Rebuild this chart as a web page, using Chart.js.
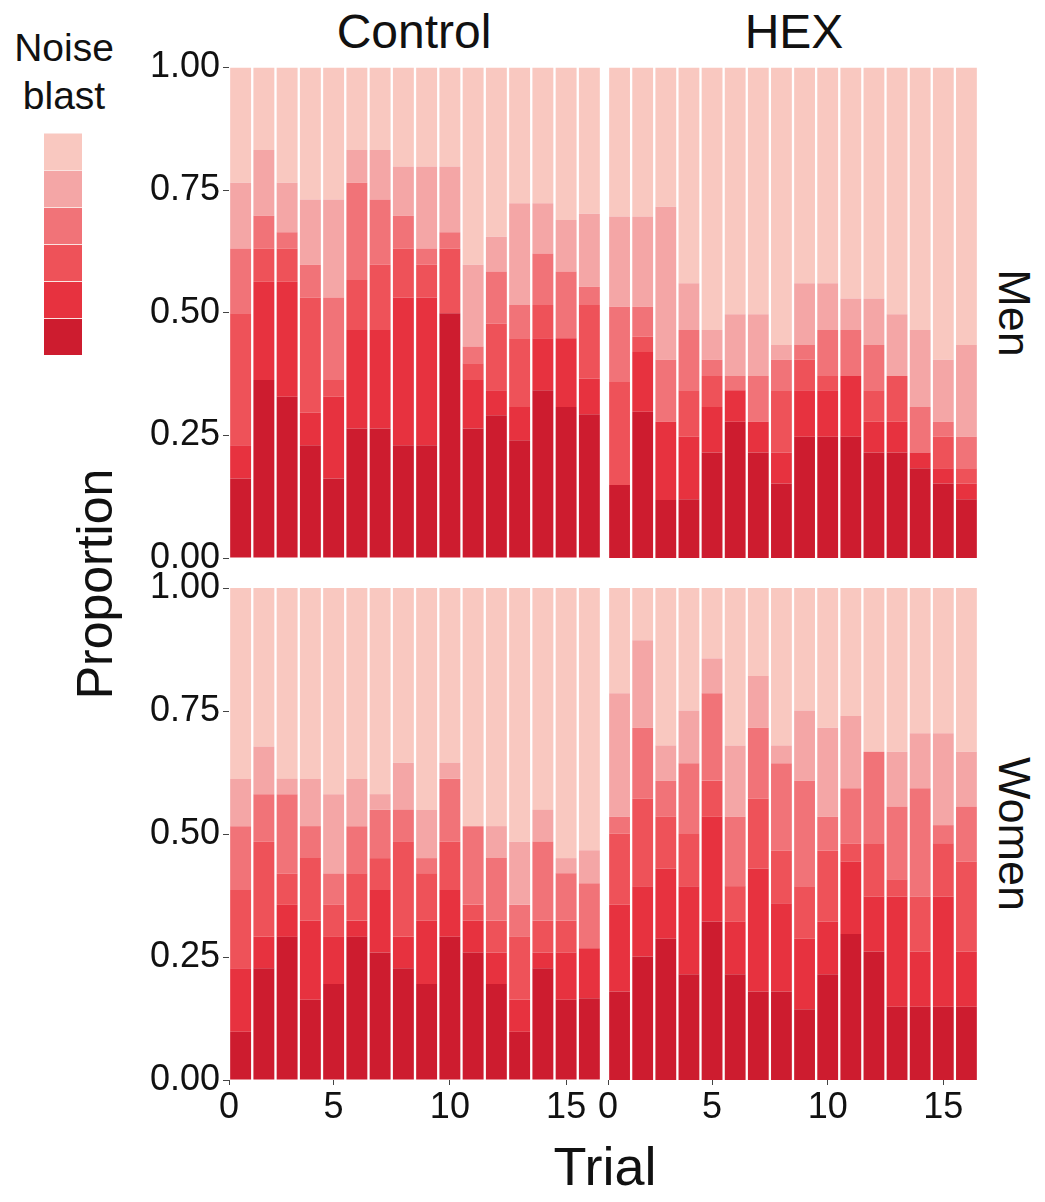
<!DOCTYPE html>
<html>
<head>
<meta charset="utf-8">
<script src="https://cdn.jsdelivr.net/npm/chart.js@4.4.1/dist/chart.umd.min.js"></script>
<style>
  body { margin: 0; background: #fff; width: 1045px; height: 1202px; position: relative; overflow: hidden;
         font-family: "Liberation Sans", Arial, sans-serif; color: #111; }
  canvas { position: absolute; }
  .lbl { position: absolute; white-space: nowrap; line-height: 1; }
  .sw { position: absolute; left: 44px; width: 38px; height: 36px; border-top: 1px solid #fbe3e0; }
</style>
</head>
<body>
<div class="lbl" style="left:414px;top:32px;font-size:48px;transform:translate(-50%,-50%)">Control</div>
<div class="lbl" style="left:794px;top:32px;font-size:48px;transform:translate(-50%,-50%)">HEX</div>
<div class="lbl" style="left:1014px;top:313px;font-size:45px;transform:translate(-50%,-50%) rotate(90deg)">Men</div>
<div class="lbl" style="left:1014px;top:834px;font-size:45px;transform:translate(-50%,-50%) rotate(90deg)">Women</div>
<div class="lbl" style="left:95px;top:584px;font-size:50px;transform:translate(-50%,-50%) rotate(-90deg)">Proportion</div>
<div class="lbl" style="left:605px;top:1166px;font-size:54px;transform:translate(-50%,-50%)">Trial</div>
<div class="lbl" style="left:64px;top:47px;font-size:39px;transform:translate(-50%,-50%)">Noise</div>
<div class="lbl" style="left:64px;top:95px;font-size:39px;transform:translate(-50%,-50%)">blast</div>
<div id="legend"></div>

<canvas id="cMen" width="501" height="560" style="left:100px;top:30px"></canvas>
<canvas id="hMen" width="390" height="560" style="left:600px;top:30px"></canvas>
<canvas id="cWomen" width="501" height="580" style="left:100px;top:560px"></canvas>
<canvas id="hWomen" width="400" height="580" style="left:594px;top:560px"></canvas>

<script>
// trials on the x axis, tick labels
const trials = [1, 2, 3, 4, 5, 6, 7, 8, 9, 10, 11, 12, 13, 14, 15, 16];
const xTicks = [0, 5, 10, 15];

// noise blast levels, darkest (bottom) to lightest (top)
const blastColors = ['#CD1C2F', '#E7323F', '#EE5259', '#F17378', '#F4A6A6', '#F9C8C0'];

// cumulative share reached at the top of levels 1..5 (level 6 fills up to 1), one row per trial
const controlMen = [
  [0.162, 0.230, 0.499, 0.631, 0.765],
  [0.363, 0.563, 0.631, 0.698, 0.832],
  [0.329, 0.563, 0.631, 0.664, 0.765],
  [0.230, 0.296, 0.531, 0.598, 0.731],
  [0.162, 0.329, 0.363, 0.531, 0.731],
  [0.264, 0.465, 0.567, 0.765, 0.832],
  [0.264, 0.465, 0.598, 0.731, 0.832],
  [0.230, 0.531, 0.631, 0.698, 0.798],
  [0.230, 0.531, 0.598, 0.631, 0.798],
  [0.499, 0.499, 0.631, 0.664, 0.798],
  [0.264, 0.363, 0.397, 0.431, 0.598],
  [0.291, 0.342, 0.478, 0.584, 0.655],
  [0.240, 0.308, 0.448, 0.516, 0.723],
  [0.342, 0.448, 0.516, 0.621, 0.723],
  [0.308, 0.448, 0.448, 0.584, 0.689],
  [0.293, 0.366, 0.516, 0.553, 0.702]
];

const hexMen = [
  [0.149, 0.149, 0.359, 0.512, 0.696],
  [0.298, 0.420, 0.451, 0.512, 0.696],
  [0.118, 0.278, 0.278, 0.404, 0.716],
  [0.120, 0.247, 0.342, 0.465, 0.560],
  [0.215, 0.308, 0.371, 0.404, 0.465],
  [0.278, 0.342, 0.342, 0.371, 0.497],
  [0.215, 0.278, 0.278, 0.371, 0.497],
  [0.152, 0.215, 0.342, 0.404, 0.434],
  [0.247, 0.342, 0.404, 0.434, 0.560],
  [0.247, 0.342, 0.371, 0.465, 0.560],
  [0.247, 0.371, 0.371, 0.465, 0.529],
  [0.215, 0.278, 0.342, 0.434, 0.529],
  [0.215, 0.278, 0.371, 0.371, 0.497],
  [0.183, 0.215, 0.215, 0.308, 0.465],
  [0.152, 0.183, 0.247, 0.278, 0.404],
  [0.120, 0.152, 0.183, 0.247, 0.434]
];

const controlWomen = [
  [0.098, 0.227, 0.386, 0.516, 0.612],
  [0.227, 0.291, 0.484, 0.581, 0.678],
  [0.291, 0.356, 0.420, 0.581, 0.612],
  [0.163, 0.324, 0.451, 0.516, 0.612],
  [0.195, 0.291, 0.356, 0.420, 0.581],
  [0.291, 0.324, 0.420, 0.516, 0.612],
  [0.259, 0.386, 0.451, 0.549, 0.581],
  [0.227, 0.291, 0.484, 0.549, 0.645],
  [0.195, 0.324, 0.420, 0.451, 0.549],
  [0.291, 0.386, 0.484, 0.612, 0.645],
  [0.259, 0.324, 0.356, 0.516, 0.516],
  [0.195, 0.259, 0.324, 0.451, 0.516],
  [0.098, 0.163, 0.291, 0.356, 0.484],
  [0.227, 0.259, 0.324, 0.484, 0.549],
  [0.163, 0.259, 0.324, 0.420, 0.451],
  [0.166, 0.268, 0.268, 0.400, 0.467]
];

const hexWomen = [
  [0.180, 0.356, 0.501, 0.535, 0.786],
  [0.251, 0.394, 0.572, 0.716, 0.894],
  [0.287, 0.430, 0.535, 0.608, 0.680],
  [0.215, 0.394, 0.500, 0.644, 0.751],
  [0.322, 0.535, 0.608, 0.786, 0.857],
  [0.215, 0.322, 0.394, 0.535, 0.680],
  [0.180, 0.430, 0.572, 0.716, 0.821],
  [0.180, 0.359, 0.466, 0.644, 0.680],
  [0.144, 0.287, 0.394, 0.608, 0.751],
  [0.215, 0.322, 0.466, 0.535, 0.716],
  [0.297, 0.444, 0.481, 0.593, 0.740],
  [0.261, 0.373, 0.481, 0.667, 0.667],
  [0.149, 0.373, 0.408, 0.556, 0.667],
  [0.149, 0.261, 0.373, 0.593, 0.705],
  [0.149, 0.373, 0.481, 0.518, 0.705],
  [0.149, 0.261, 0.444, 0.556, 0.667]
];

// legend swatches, lightest on top
const legend = document.getElementById('legend');
blastColors.slice().reverse().forEach((c, i) => {
  const d = document.createElement('div');
  d.className = 'sw';
  d.style.top = (133 + i * 37) + 'px';
  d.style.background = c;
  legend.appendChild(d);
});

const tickFont = { family: '"Liberation Sans", Arial, sans-serif', size: 36 };

// one dataset per level: height = difference of consecutive cumulative shares
function makeDatasets(cum) {
  return blastColors.map((color, k) => ({
    data: trials.map((t, i) => ({
      x: t,
      y: (k < 5 ? cum[i][k] : 1) - (k > 0 ? cum[i][k - 1] : 0)
    })),
    backgroundColor: color,
    borderWidth: 0,
    barPercentage: 0.9,
    categoryPercentage: 1
  }));
}

function makeChart(id, cum, showX, showY, padding) {
  return new Chart(document.getElementById(id), {
    type: 'bar',
    data: { datasets: makeDatasets(cum) },
    options: {
      responsive: false,
      animation: false,
      layout: { padding: padding },
      plugins: { legend: { display: false }, tooltip: { enabled: false } },
      scales: {
        x: {
          type: 'linear',
          stacked: true,
          display: showX,
          min: 0.5,
          max: 16.5,
          offset: false,
          grid: { offset: false, drawOnChartArea: false, drawTicks: true, tickLength: 5, color: '#444' },
          border: { display: false },
          afterBuildTicks: (s) => { s.ticks = xTicks.map(v => ({ value: Math.max(v, s.min) })); },
          afterFit: (s) => { s.height = showX ? 60 : 0; },
          ticks: {
            font: tickFont, color: '#111', padding: 1, maxRotation: 0, autoSkip: false,
            callback: (v, i) => String(xTicks[i])
          }
        },
        y: {
          stacked: true,
          display: showY,
          min: 0,
          max: 1,
          grid: { drawOnChartArea: false, drawTicks: true, tickLength: 6, color: '#444' },
          border: { display: false },
          afterFit: (s) => { s.width = showY ? 129 : 0; },
          ticks: { stepSize: 0.25, font: tickFont, color: '#111', padding: 3, callback: (v) => v.toFixed(2) }
        }
      }
    }
  });
}

makeChart('cMen', controlMen, false, true, { top: 37.5, bottom: 32, left: 0, right: 0 });
makeChart('hMen', hexMen, false, false, { top: 37.5, bottom: 32, left: 8, right: 12 });
makeChart('cWomen', controlWomen, true, true, { top: 28, bottom: 0, left: 0, right: 0 });
makeChart('hWomen', hexWomen, true, false, { top: 28, bottom: 0, left: 14, right: 16 });
</script>
</body>
</html>
